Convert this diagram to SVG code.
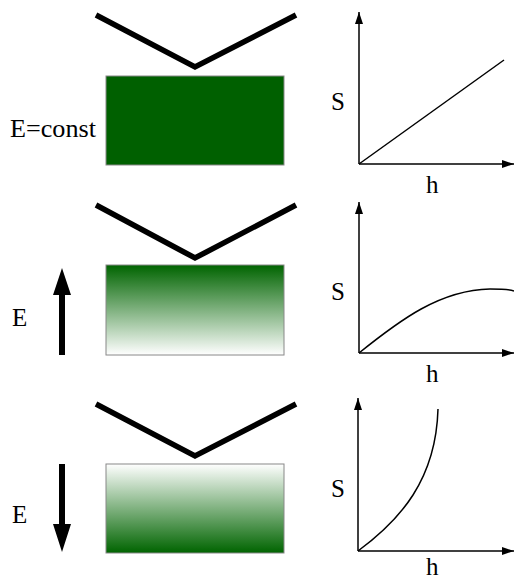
<svg xmlns="http://www.w3.org/2000/svg" width="514" height="579" viewBox="0 0 514 579">
<defs>
<linearGradient id="gUp" x1="0" y1="0" x2="0" y2="1"><stop offset="0" stop-color="#006400"/><stop offset="1" stop-color="#ffffff"/></linearGradient>
<linearGradient id="gDown" x1="0" y1="0" x2="0" y2="1"><stop offset="0" stop-color="#ffffff"/><stop offset="1" stop-color="#006400"/></linearGradient>
<marker id="ah" viewBox="0 0 12 8" refX="12" refY="4" markerWidth="12" markerHeight="8" orient="auto" markerUnits="userSpaceOnUse"><path d="M0,0 L12,4 L0,8 z" fill="#000"/></marker>
<style>
.v{fill:none;stroke:#000;stroke-width:5.5;stroke-linejoin:miter}
.blk{stroke:#888;stroke-width:1}
.ax{fill:none;stroke:#000;stroke-width:1.5}
.cv{fill:none;stroke:#000;stroke-width:1.5}
.t{font-family:'Liberation Serif','DejaVu Serif',serif;font-size:25px;fill:#000}
</style>
</defs>
<g id="panel1">
<polyline class="v" points="96,15 195,67 296,15"/>
<rect class="blk" x="106" y="76" width="178" height="89" fill="#006000"/>
<text class="t" font-family="Liberation Serif, serif" x="10" y="137" textLength="86" lengthAdjust="spacingAndGlyphs">E=const</text>
</g>
<g id="graph1">
<line class="ax" x1="359" y1="164" x2="359" y2="12" marker-end="url(#ah)"/>
<line class="ax" x1="359" y1="164" x2="514" y2="164" marker-end="url(#ah)"/>
<line class="cv" x1="359" y1="164" x2="504" y2="60"/>
<text class="t" font-family="Liberation Serif, serif" x="331" y="110">S</text>
<text class="t" font-family="Liberation Serif, serif" x="426" y="193">h</text>
</g>
<g id="panel2">
<polyline class="v" points="96,205 195,258 296,205"/>
<rect class="blk" x="106" y="265" width="178" height="90" fill="url(#gUp)"/>
<path d="M59,355 L59,295 L53,295 L62,268 L71,295 L65,295 L65,355 z" fill="#000"/>
<text class="t" font-family="Liberation Serif, serif" x="12" y="326">E</text>
</g>
<g id="graph2">
<line class="ax" x1="359" y1="353" x2="359" y2="202" marker-end="url(#ah)"/>
<line class="ax" x1="359" y1="353" x2="514" y2="353" marker-end="url(#ah)"/>
<path class="cv" d="M359,353 C400,320 440,290 490,289 C500,289 508,289 514,291"/>
<text class="t" font-family="Liberation Serif, serif" x="331" y="300">S</text>
<text class="t" font-family="Liberation Serif, serif" x="426" y="382">h</text>
</g>
<g id="panel3">
<polyline class="v" points="96,404 195,456 296,404"/>
<rect class="blk" x="106" y="464" width="178" height="89" fill="url(#gDown)"/>
<path d="M59,464 L59,524 L53,524 L62,552 L71,524 L65,524 L65,464 z" fill="#000"/>
<text class="t" font-family="Liberation Serif, serif" x="12" y="523">E</text>
</g>
<g id="graph3">
<line class="ax" x1="358" y1="551" x2="358" y2="398" marker-end="url(#ah)"/>
<line class="ax" x1="358" y1="551" x2="514" y2="551" marker-end="url(#ah)"/>
<path class="cv" d="M358,551 C400,520 436,480 438,409"/>
<text class="t" font-family="Liberation Serif, serif" x="331" y="497">S</text>
<text class="t" font-family="Liberation Serif, serif" x="426" y="575">h</text>
</g>
</svg>
